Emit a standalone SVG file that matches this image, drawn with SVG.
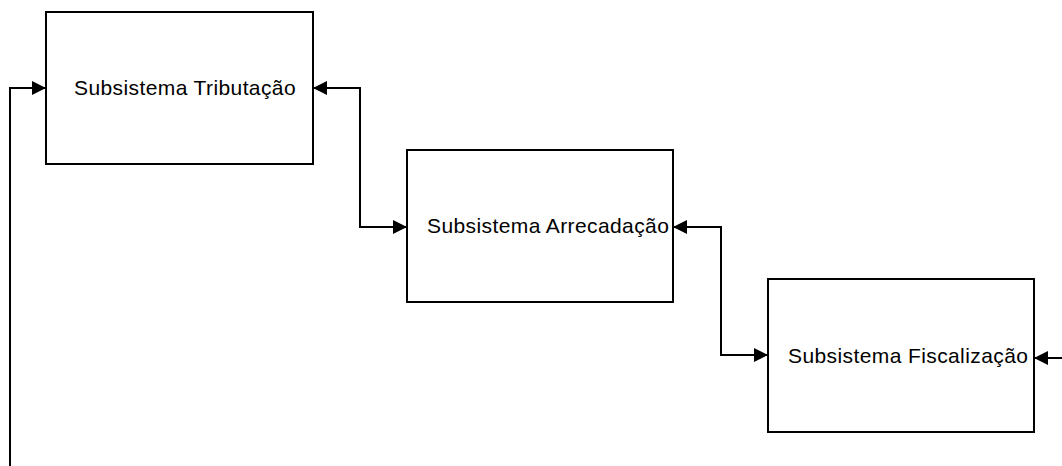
<svg xmlns="http://www.w3.org/2000/svg" width="1062" height="466" viewBox="0 0 1062 466">
  <style>
    .box { fill: #ffffff; stroke: #000000; stroke-width: 2; }
    .label { font-family: "Liberation Sans", Arial, sans-serif; font-size: 21px; letter-spacing: 0.4px; fill: #000000; }
    .wire { fill: none; stroke: #000000; stroke-width: 2; }
  </style>
  <defs>
    <marker id="head" viewBox="0 0 14 14" refX="14" refY="7" markerWidth="14" markerHeight="14" markerUnits="userSpaceOnUse" orient="auto-start-reverse">
      <path d="M0,0 L14,7 L0,14 Z" fill="#000000"/>
    </marker>
  </defs>

  <g id="tributacao">
    <rect class="box" x="46" y="12" width="267" height="152"/>
    <text class="label" x="74" y="95">Subsistema Tributação</text>
  </g>

  <g id="arrecadacao">
    <rect class="box" x="407" y="150" width="266" height="152"/>
    <text class="label" x="427" y="233">Subsistema Arrecadação</text>
  </g>

  <g id="fiscalizacao">
    <rect class="box" x="768" y="279" width="266" height="153"/>
    <text class="label" x="788" y="363">Subsistema Fiscalização</text>
  </g>

  <g id="connectors">
    <path class="wire" d="M10,466 V88 H46" marker-end="url(#head)"/>
    <path class="wire" d="M313,88 H360 V227 H407" marker-start="url(#head)" marker-end="url(#head)"/>
    <path class="wire" d="M673,227 H721 V355 H768" marker-start="url(#head)" marker-end="url(#head)"/>
    <path class="wire" d="M1062,358 H1034" marker-end="url(#head)"/>
  </g>
</svg>
